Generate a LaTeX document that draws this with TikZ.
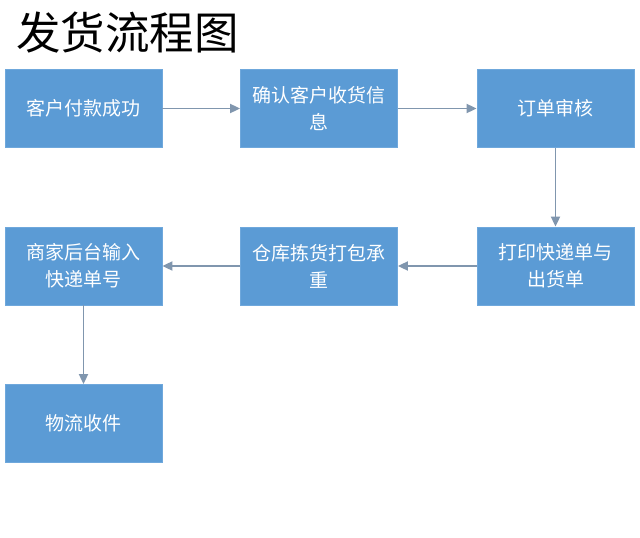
\documentclass[tikz,border=0pt]{standalone}
\usepackage{fontspec}
\setmainfont{Noto Sans CJK SC}
\usetikzlibrary{arrows.meta}
\definecolor{boxblue}{HTML}{5B9BD5}
\definecolor{boxedge}{HTML}{6FA8DC}
\definecolor{arrowc}{HTML}{8096AE}
\begin{document}
\begin{tikzpicture}[x=1pt,y=-1pt,
  flowbox/.style={rectangle,fill=boxblue,draw=boxedge,line width=0.8pt,
    minimum width=157pt,minimum height=78pt,inner sep=0pt,
    text=white,font=\fontsize{19}{27}\selectfont,align=center},
  flowarrow/.style={draw=arrowc,line width=1.8pt,-{Triangle[length=10pt,width=9pt]}}]
\useasboundingbox (0,0) rectangle (640,538);
\fill[white] (0,0) rectangle (640,538);
\node[anchor=west,inner sep=0pt,font=\fontsize{44.5}{50}\selectfont] (title) at (16,33) {发货流程图};
\node[flowbox] (b1) at (83.5,108.5) {客户付款成功};
\node[flowbox] (b2) at (319,108.5) {确认客户收货信\\息};
\node[flowbox] (b3) at (555.5,108.5) {订单审核};
\node[flowbox] (b4) at (555.5,266) {打印快递单与\\出货单};
\node[flowbox] (b5) at (319,266) {仓库拣货打包承\\重};
\node[flowbox] (b6) at (83.5,266) {商家后台输入\\快递单号};
\node[flowbox] (b7) at (83.5,423.5) {物流收件};
\draw[flowarrow] (b1) -- (b2);
\draw[flowarrow] (b2) -- (b3);
\draw[flowarrow] (b3) -- (b4);
\draw[flowarrow] (b4) -- (b5);
\draw[flowarrow] (b5) -- (b6);
\draw[flowarrow] (b6) -- (b7);
\end{tikzpicture}
\end{document}
